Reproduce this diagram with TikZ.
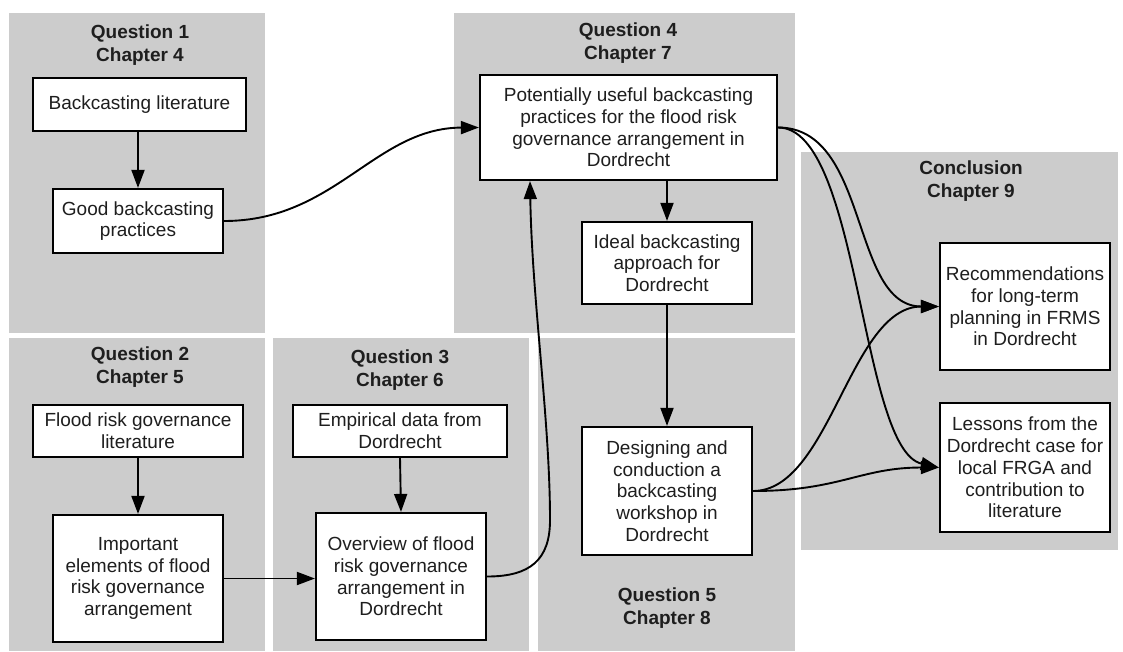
\documentclass[tikz,border=0pt]{standalone}
\usepackage{fontspec}
\setmainfont{Liberation Sans}
\usetikzlibrary{arrows.meta}
\definecolor{panelgray}{HTML}{CCCCCC}
\definecolor{txt}{HTML}{1E1E1E}
\begin{document}
\begin{tikzpicture}[x=1pt,y=-1pt,
  panel/.style={fill=panelgray, draw=none},
  box/.style={draw=black, fill=white, line width=2.2pt, align=center, inner sep=0pt, text=txt,
    font=\fontsize{19}{21.7}\selectfont},
  title/.style={align=center, inner sep=0pt, text=txt, font=\fontsize{19}{23}\selectfont\bfseries},
  conn/.style={line width=1.9pt, -{Triangle[length=18pt,width=13pt]}}]
\useasboundingbox (0,0) rectangle (1123,651);
\fill[white] (0,0) rectangle (1123,651);
% panels
\fill[panel] (9,13) rectangle (265,333);
\fill[panel] (454,13) rectangle (795,333);
\fill[panel] (801,152) rectangle (1118,550);
\fill[panel] (9,338) rectangle (265,651);
\fill[panel] (273,338) rectangle (529,651);
\fill[panel] (538,338) rectangle (795,651);
% titles
\node[title] (t1) at (140,45) {Question 1\\Chapter 4};
\node[title] (t2) at (140,367) {Question 2\\Chapter 5};
\node[title] (t3) at (400,370) {Question 3\\Chapter 6};
\node[title] (t4) at (628,43) {Question 4\\Chapter 7};
\node[title] (t5) at (667,608) {Question 5\\Chapter 8};
\node[title] (t9) at (971,181) {Conclusion\\Chapter 9};
% boxes
\node[box, minimum width=213pt, minimum height=53pt] (bl) at (139.5,104.5) {Backcasting literature};
\node[box, minimum width=170pt, minimum height=64pt] (good) at (138,221) {Good backcasting\\practices};
\node[box, minimum width=210pt, minimum height=52pt] (frgl) at (138,431) {Flood risk governance\\literature};
\node[box, minimum width=170pt, minimum height=127pt] (imp) at (138,578.5) {Important\\elements of flood\\risk governance\\arrangement};
\node[box, minimum width=214pt, minimum height=52pt] (emp) at (400,431) {Empirical data from\\Dordrecht};
\node[box, minimum width=170pt, minimum height=127pt] (ov) at (401,576.5) {Overview of flood\\risk governance\\arrangement in\\Dordrecht};
\node[box, minimum width=297pt, minimum height=105pt] (pot) at (628.5,127.5) {Potentially useful backcasting\\practices for the flood risk\\governance arrangement in\\Dordrecht};
\node[box, minimum width=170pt, minimum height=82pt] (ideal) at (667,263) {Ideal backcasting\\approach for\\Dordrecht};
\node[box, minimum width=170pt, minimum height=128pt] (des) at (667,491) {Designing and\\conduction a\\backcasting\\workshop in\\Dordrecht};
\node[box, minimum width=170pt, minimum height=127pt] (rec) at (1025,306.5) {Recommendations\\for long-term\\planning in FRMS\\in Dordrecht};
\node[box, minimum width=170pt, minimum height=129pt] (les) at (1025,467.5) {Lessons from the\\Dordrecht case for\\local FRGA and\\contribution to\\literature};
% connectors
\draw[conn] (good.north |- bl.south) -- (good.north);
\draw[conn] (frgl.south) -- (imp.north);
\draw[conn] (emp.south) -- (ov.north);
\draw[conn] (imp.east) -- (ov.west |- imp.east);
\draw[conn] (good.east) .. controls (335,221) and (375,128) .. (pot.west);
\coordinate (ovbend) at (550,520);
\coordinate (potin) at ([xshift=-98.5pt]pot.south);
\draw[line width=1.9pt] (ov.east) .. controls (530,576.5) and (550,560) .. (ovbend);
\draw[conn] (ovbend) .. controls (550,420) and (532,300) .. (potin);
\draw[conn] (pot.south -| ideal.north) -- (ideal.north);
\draw[conn] (ideal.south) -- (des.north);
\draw[conn] (pot.east) .. controls (870,127.5) and (850,306.5) .. (rec.west);
\draw[conn] (pot.east) .. controls (860,127.5) and (860,450) .. (les.west);
\draw[conn] (des.east) .. controls (830,491) and (850,306.5) .. (rec.west);
\draw[conn] (des.east) .. controls (840,491) and (860,467.5) .. (les.west);
\end{tikzpicture}
\end{document}
